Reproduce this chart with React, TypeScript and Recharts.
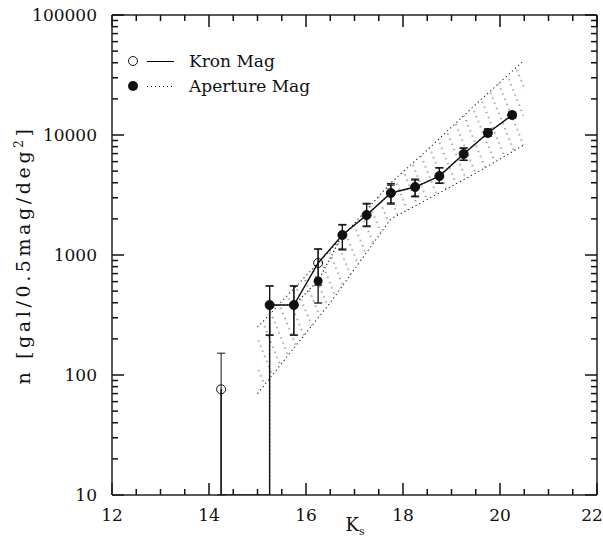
import {
  Area,
  ComposedChart,
  ErrorBar,
  Line,
  ReferenceLine,
  Scatter,
  XAxis,
  YAxis,
} from "recharts";

const FONT = "'DejaVu Serif', serif";
const FLOOR = 10;

// magnitude bins (K_s), 0 = empty bin
const bins = [13.75, 14.25, 14.75, 15.25, 15.75, 16.25, 16.75, 17.25, 17.75, 18.25, 18.75, 19.25, 19.75, 20.25];

const kronCounts = [0, 76, 0, 383, 383, 858, 1468, 2154, 3286, 3686, 4550, 6950, 10400, 14680];
const kronLow = [0, 10, 0, 215, 215, 560, 1100, 1720, 2650, 3050, 3950, 6150, 9800, 13900];
const kronHigh = [0, 152, 0, 552, 552, 1122, 1800, 2700, 3950, 4300, 5350, 7800, 11200, 15500];

const apCounts = [0, 0, 0, 383, 383, 607, 1468, 2154, 3286, 3686, 4550, 6950, 10400, 14680];
const apLow = [0, 0, 0, 215, 215, 398, 1120, 1745, 2710, 3090, 3980, 6170, 9800, 13900];
const apHigh = [0, 0, 0, 552, 552, 1122, 1778, 2660, 3830, 4220, 5310, 7770, 11200, 15500];

// model range (hatched band)
const bandK = [15, 16.5, 17.75, 18.5, 19.5, 20.5];
const bandLow = [70, 400, 2000, 2900, 4800, 8300];
const bandHigh = [250, 1100, 4000, 7500, 18000, 42000];

const xTicks = [12, 12.5, 13, 13.5, 14, 14.5, 15, 15.5, 16, 16.5, 17, 17.5, 18, 18.5, 19, 19.5, 20, 20.5, 21, 21.5, 22];
const yTicks = [10, 20, 30, 40, 50, 60, 70, 80, 90, 100, 200, 300, 400, 500, 600, 700, 800, 900, 1000, 2000, 3000, 4000, 5000, 6000, 7000, 8000, 9000, 10000, 20000, 30000, 40000, 50000, 60000, 70000, 80000, 90000, 100000];

// points with counts, plus asymmetric error bars
function points(counts: number[], low: number[], high: number[]) {
  return bins
    .map((k, i) => ({ k, n: counts[i], err: [counts[i] - low[i], high[i] - counts[i]] }))
    .filter((d) => d.n > 0);
}

// connecting line; empty bins drop to the bottom of the plot
function dropLine(counts: number[]) {
  const out: { k: number; n: number }[] = [];
  counts.forEach((c, i) => {
    if (c > 0) {
      out.push({ k: bins[i], n: c });
      return;
    }
    if (i > 0 && counts[i - 1] > 0) out.push({ k: bins[i - 1], n: FLOOR });
    if (i < counts.length - 1 && counts[i + 1] > 0) out.push({ k: bins[i + 1], n: FLOOR });
  });
  return out;
}

const kronPts = points(kronCounts, kronLow, kronHigh);
const apPts = points(apCounts, apLow, apHigh);
const kronLine = dropLine(kronCounts);
const apLine = dropLine(apCounts);
const band = bandK.map((k, i) => ({ k, range: [bandLow[i], bandHigh[i]] }));

const isMajorX = (v: number) => v % 2 === 0;
const isDecade = (v: number) => Math.abs(Math.log10(v) - Math.round(Math.log10(v))) < 1e-9;

// inward tick marks at both ends of a reference line
function VTicks(p: any) {
  const top = Math.min(p.y1, p.y2);
  const bottom = Math.max(p.y1, p.y2);
  return (
    <g>
      <line x1={p.x1} y1={bottom} x2={p.x1} y2={bottom - p.len} stroke="#111" strokeWidth={1.5} />
      <line x1={p.x1} y1={top} x2={p.x1} y2={top + p.len} stroke="#111" strokeWidth={1.5} />
    </g>
  );
}

function HTicks(p: any) {
  const left = Math.min(p.x1, p.x2);
  const right = Math.max(p.x1, p.x2);
  return (
    <g>
      <line x1={left} y1={p.y1} x2={left + p.len} y2={p.y1} stroke="#111" strokeWidth={1.5} />
      <line x1={right} y1={p.y1} x2={right - p.len} y2={p.y1} stroke="#111" strokeWidth={1.5} />
    </g>
  );
}

function BottomLabel(props: any) {
  const v = props.payload.value;
  if (!isMajorX(v)) return null;
  return (
    <text x={Math.min(Number(props.x), 592)} y={Number(props.y) + 26} textAnchor="middle" fontFamily={FONT} fontSize={17} fill="#111">
      {v}
    </text>
  );
}

function LeftLabel(props: any) {
  const v = props.payload.value;
  if (!isDecade(v)) return null;
  return (
    <text x={Number(props.x) - 15} y={Number(props.y)} dy="0.35em" textAnchor="end" fontFamily={FONT} fontSize={17} fill="#111">
      {v}
    </text>
  );
}

// titles, legend and the hatch pattern, laid over the chart
function Overlay() {
  return (
    <svg width={603} height={543} style={{ position: "absolute", left: 0, top: 0, pointerEvents: "none" }}>
      <defs>
        <pattern id="hatch" patternUnits="userSpaceOnUse" width={11} height={11} patternTransform="rotate(-22)">
          <line x1={2} y1={0} x2={2} y2={11} stroke="#222" strokeWidth={1} strokeDasharray="1.2 4.3" />
        </pattern>
      </defs>
      <text
        x={30}
        y={255}
        transform="rotate(-90 30 255)"
        textAnchor="middle"
        fontFamily={FONT}
        fontSize={19}
        letterSpacing={3.6}
        fill="#111"
      >
        n [gal/0.5mag/deg
        <tspan dy={-7} fontSize={12}>2</tspan>
        <tspan dy={7}>]</tspan>
      </text>
      <text x={355} y={531} textAnchor="middle" fontFamily={FONT} fontSize={18} fill="#111">
        K<tspan dy={4} fontSize={11}>s</tspan>
      </text>
      <g transform="translate(126,48)">
        <circle cx={7} cy={13} r={4.5} fill="none" stroke="#111" />
        <line x1={21} y1={13.5} x2={48} y2={13.5} stroke="#000" />
        <text x={63} y={19} fontFamily={FONT} fontSize={17} fill="#111">Kron Mag</text>
        <circle cx={7} cy={38} r={5} fill="#111" />
        <line x1={21} y1={38.5} x2={48} y2={38.5} stroke="#000" strokeDasharray="1 3" />
        <text x={63} y={44} fontFamily={FONT} fontSize={17} fill="#111">Aperture Mag</text>
      </g>
    </svg>
  );
}

export default function App() {
  return (
    <div style={{ position: "absolute", left: 0, top: 0, width: 603, height: 543, background: "#fff" }}>
      <ComposedChart width={603} height={543} margin={{ top: 15, right: 6, bottom: 0, left: 0 }}>
        <XAxis
          dataKey="k"
          type="number"
          domain={[12, 22]}
          ticks={xTicks}
          interval={0}
          height={48}
          tickSize={0}
          tickMargin={0}
          tickLine={false}
          tick={<BottomLabel />}
          axisLine={{ stroke: "#222", strokeWidth: 1.5 }}
          allowDataOverflow
        />
        <YAxis
          scale="log"
          type="number"
          domain={[10, 100000]}
          ticks={yTicks}
          interval={0}
          width={112}
          tickSize={0}
          tickMargin={0}
          tickLine={false}
          tick={<LeftLabel />}
          axisLine={{ stroke: "#222", strokeWidth: 1.5 }}
          allowDataOverflow
        />
        <ReferenceLine x={22} stroke="#222" strokeWidth={1.5} ifOverflow="visible" />
        <ReferenceLine y={100000} stroke="#222" strokeWidth={1.5} ifOverflow="visible" />
        {xTicks.map((v) => (
          <ReferenceLine
            key={`xt${v}`}
            x={v}
            stroke="none"
            ifOverflow="visible"
            shape={(p: any) => <VTicks {...p} len={isMajorX(v) ? 12 : 6} />}
          />
        ))}
        {yTicks.map((v) => (
          <ReferenceLine
            key={`yt${v}`}
            y={v}
            stroke="none"
            ifOverflow="visible"
            shape={(p: any) => <HTicks {...p} len={isDecade(v) ? 12 : 6} />}
          />
        ))}
        <Area
          data={band}
          dataKey="range"
          type="linear"
          fill="url(#hatch)"
          fillOpacity={1}
          stroke="#222"
          strokeWidth={1.1}
          strokeDasharray="1.2 3"
          isAnimationActive={false}
        />
        <Line
          data={apLine}
          dataKey="n"
          type="linear"
          stroke="#222"
          strokeWidth={1.2}
          strokeDasharray="1.2 2.5"
          dot={false}
          isAnimationActive={false}
        />
        <Line
          data={kronLine}
          dataKey="n"
          type="linear"
          stroke="#111"
          strokeWidth={1.4}
          dot={false}
          isAnimationActive={false}
        />
        <Scatter data={kronPts} dataKey="n" fill="none" stroke="#111" isAnimationActive={false}>
          <ErrorBar dataKey="err" direction="y" width={4} stroke="#111" strokeWidth={1} />
        </Scatter>
        <Scatter data={apPts} dataKey="n" fill="#111" isAnimationActive={false}>
          <ErrorBar dataKey="err" direction="y" width={4} stroke="#111" strokeWidth={1.3} />
        </Scatter>
      </ComposedChart>
      <Overlay />
    </div>
  );
}
